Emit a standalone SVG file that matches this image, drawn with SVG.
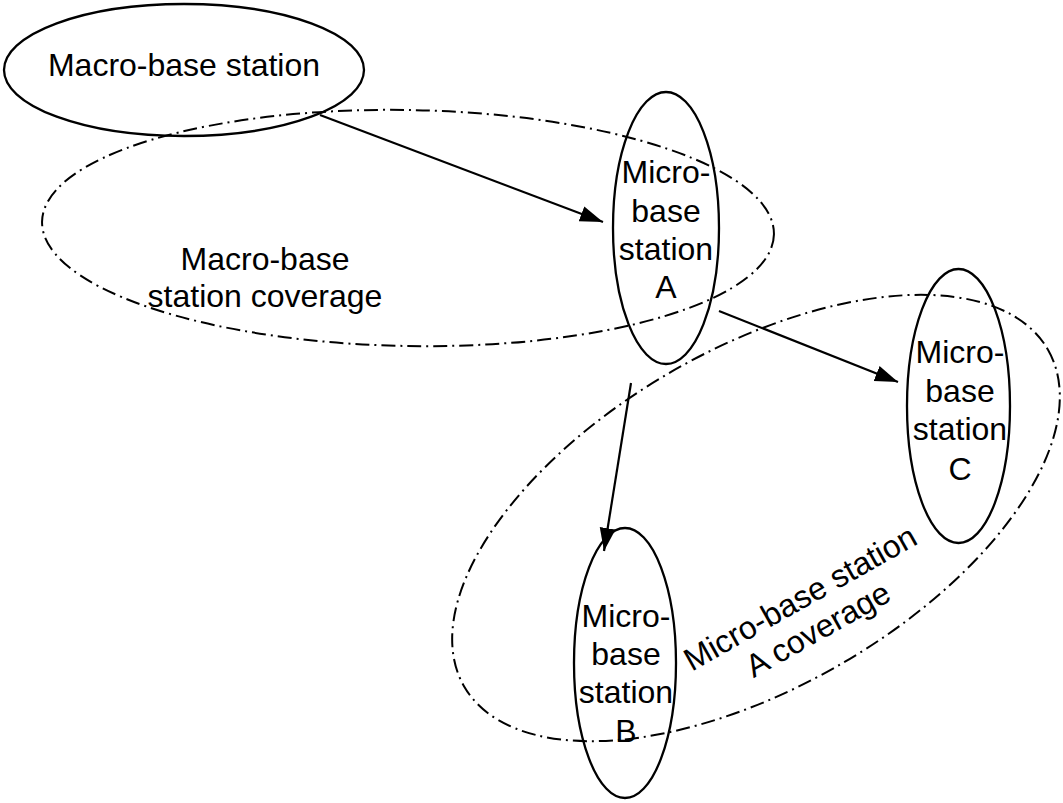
<svg xmlns="http://www.w3.org/2000/svg" width="1063" height="803" viewBox="0 0 1063 803">
  <style>
    .node { fill: none; stroke: #000; stroke-width: 2.3; }
    .area { fill: none; stroke: #000; stroke-width: 2; stroke-dasharray: 14 5 2 5; }
    .lbl { font-family: "Liberation Sans", Arial, sans-serif; font-size: 32px; fill: #000; text-anchor: middle; }
    .link { fill: none; stroke: #000; stroke-width: 2.2; marker-end: url(#arrow); }
  </style>
  <defs>
    <marker id="arrow" markerUnits="userSpaceOnUse" markerWidth="26" markerHeight="18" refX="23" refY="8" orient="auto">
      <path d="M0,0 L23,8 L0,16 z" fill="#000"/>
    </marker>
  </defs>
  <rect width="1063" height="803" fill="#fff"/>

  <!-- coverage areas -->
  <g id="macro-coverage">
    <ellipse class="area" cx="408" cy="228" rx="366" ry="118" transform="rotate(1 408 228)"/>
    <text class="lbl" x="265" y="270">Macro-base</text>
    <text class="lbl" x="265" y="307">station coverage</text>
  </g>
  <g id="micro-a-coverage">
    <ellipse class="area" cx="756" cy="518" rx="337" ry="169" transform="rotate(-30 756 518)"/>
    <g transform="translate(805.5 607.5) rotate(-29.5)">
      <text class="lbl" x="0" y="0">Micro-base station</text>
      <text class="lbl" x="0" y="36">A coverage</text>
    </g>
  </g>

  <!-- stations -->
  <g id="macro-station">
    <ellipse class="node" cx="184" cy="70" rx="180" ry="66"/>
    <text class="lbl" x="184" y="76">Macro-base station</text>
  </g>
  <g id="micro-a">
    <ellipse class="node" cx="666" cy="228" rx="53" ry="136"/>
    <text class="lbl" x="666" y="183">Micro-</text>
    <text class="lbl" x="666" y="222">base</text>
    <text class="lbl" x="666" y="260">station</text>
    <text class="lbl" x="666" y="298">A</text>
  </g>
  <g id="micro-c">
    <ellipse class="node" cx="958.5" cy="406" rx="51.5" ry="137"/>
    <text class="lbl" x="960" y="363">Micro-</text>
    <text class="lbl" x="960" y="402">base</text>
    <text class="lbl" x="960" y="440">station</text>
    <text class="lbl" x="960" y="480">C</text>
  </g>
  <g id="micro-b">
    <ellipse class="node" cx="625" cy="663" rx="51" ry="135"/>
    <text class="lbl" x="626" y="627">Micro-</text>
    <text class="lbl" x="626" y="665">base</text>
    <text class="lbl" x="626" y="703">station</text>
    <text class="lbl" x="626" y="742">B</text>
  </g>

  <!-- connectors -->
  <g id="connectors">
    <line class="link" x1="320" y1="115" x2="603" y2="222"/>
    <line class="link" x1="719" y1="311" x2="898" y2="382"/>
    <line class="link" x1="631" y1="383" x2="604" y2="551"/>
  </g>
</svg>
